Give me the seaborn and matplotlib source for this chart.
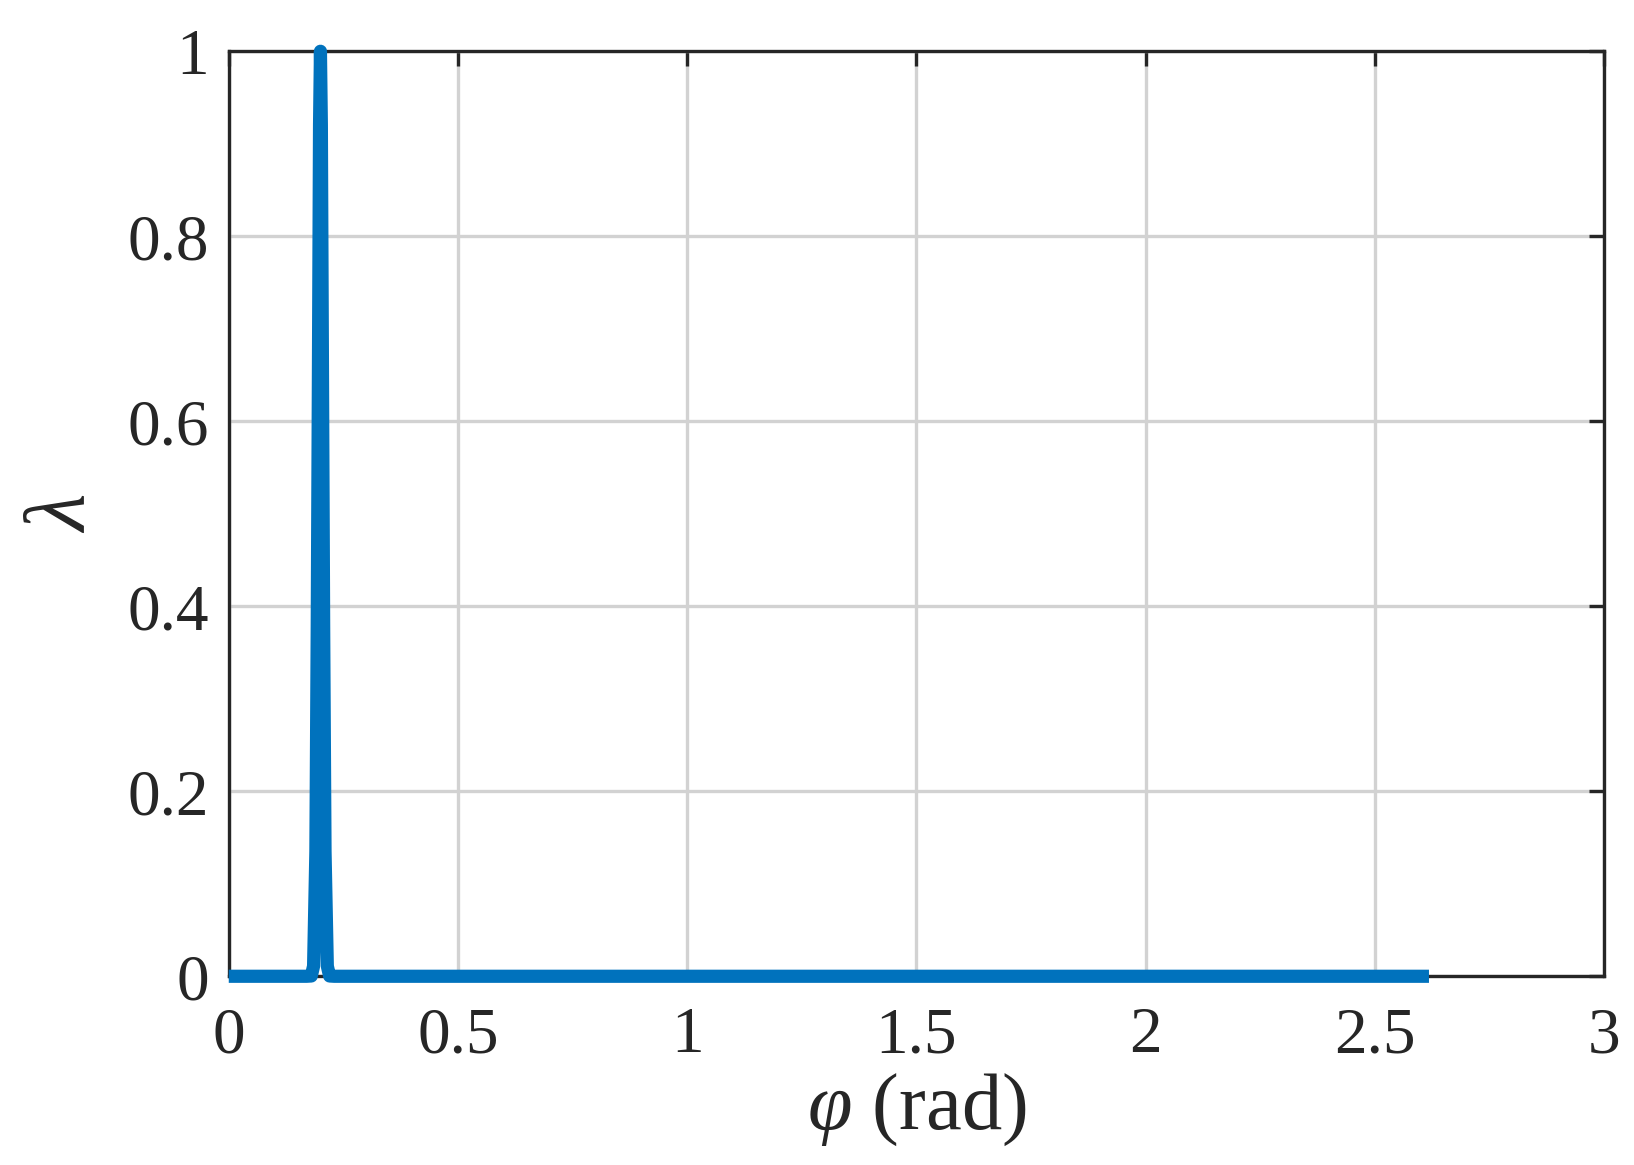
import matplotlib
matplotlib.use("Agg")
import matplotlib.pyplot as plt
import seaborn as sns
import pandas as pd

# data: phase angle (rad) vs lambda
phi = [0.0, 0.10, 0.17, 0.180, 0.185, 0.190, 0.193, 0.196, 0.198, 0.200,
       0.202, 0.204, 0.207, 0.210, 0.215, 0.220, 0.230, 0.30, 1.0, 2.0, 2.618]
lam = [0.0, 0.0, 0.0, 0.0003, 0.011, 0.135, 0.38, 0.70, 0.92, 1.0,
       0.92, 0.70, 0.38, 0.135, 0.011, 0.0003, 0.0, 0.0, 0.0, 0.0, 0.0]

x_ticks = [0, 0.5, 1, 1.5, 2, 2.5, 3]
x_tick_labels = ["0", "0.5", "1", "1.5", "2", "2.5", "3"]
y_ticks = [0, 0.2, 0.4, 0.6, 0.8, 1]
y_tick_labels = ["0", "0.2", "0.4", "0.6", "0.8", "1"]

df = pd.DataFrame({"phi": phi, "lam": lam})

sns.set_style("white")
plt.rcParams["font.family"] = ["Liberation Serif", "DejaVu Serif"]
plt.rcParams["mathtext.fontset"] = "custom"
plt.rcParams["mathtext.rm"] = "Liberation Serif"
plt.rcParams["mathtext.it"] = "Liberation Serif:italic"

fig = plt.figure(figsize=(16.34, 11.65), dpi=100)
ax = fig.add_axes([0.140, 0.162, 0.8417, 0.794])

sns.lineplot(data=df, x="phi", y="lam", ax=ax, color="#0072BD",
             linewidth=9.5, solid_capstyle="butt", solid_joinstyle="round",
             clip_on=False, zorder=3)

ax.set_xlim(0, 3)
ax.set_ylim(0, 1)
ax.set_xticks(x_ticks)
ax.set_xticklabels(x_tick_labels)
ax.set_yticks(y_ticks)
ax.set_yticklabels(y_tick_labels)

ax.grid(True, color="#d2d2d2", linewidth=2.4)
ax.set_axisbelow(True)
for s in ax.spines.values():
    s.set_visible(True)
    s.set_color("#262626")
    s.set_linewidth(2.4)
    s.set_zorder(2.5)

ax.tick_params(axis="both", which="both", direction="in", length=11, width=2.4,
               color="#262626", labelcolor="#262626", labelsize=47,
               top=True, right=True)
ax.tick_params(axis="x", pad=22)
ax.tick_params(axis="y", pad=14)

ax.set_xlabel(r"$\varphi$ (rad)", fontsize=58, color="#262626", labelpad=4)
ax.set_ylabel(r"$\lambda$", fontsize=62, color="#262626", labelpad=17)

fig.savefig("out.png", dpi=100)
